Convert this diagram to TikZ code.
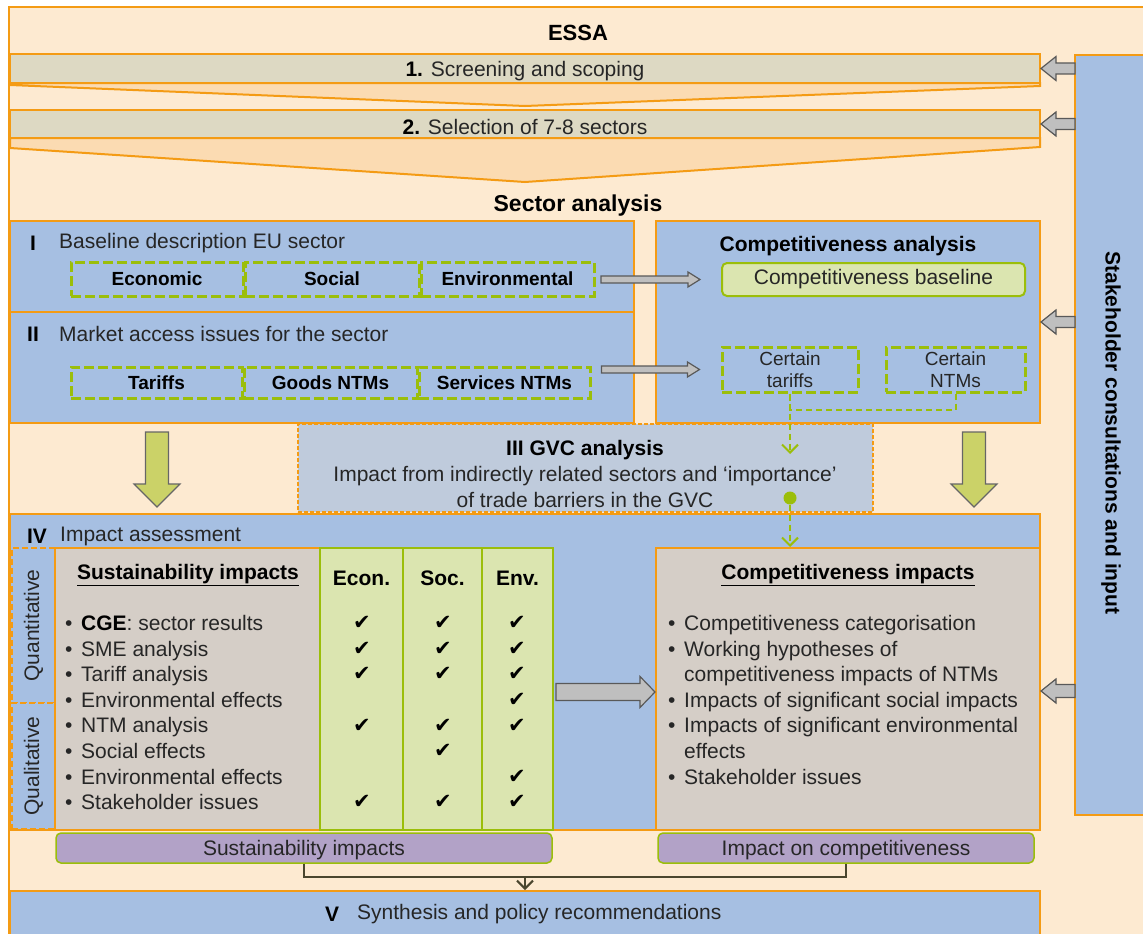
\documentclass[tikz,border=0pt]{standalone}
\usepackage{fontspec}
\setmainfont{Liberation Sans}
\newfontfamily\tickfont{DejaVu Sans}
\usetikzlibrary{calc,fit,arrows.meta}

\definecolor{essaorange}{RGB}{244,155,20}
\definecolor{essapeach}{RGB}{253,234,209}
\definecolor{essachev}{RGB}{251,219,178}
\definecolor{essabar}{RGB}{221,217,195}
\definecolor{essablue}{RGB}{166,191,226}
\definecolor{essagvc}{RGB}{191,203,220}
\definecolor{essasand}{RGB}{213,206,199}
\definecolor{essagreen}{RGB}{155,190,10}
\definecolor{essalight}{RGB}{219,229,176}
\definecolor{essapurple}{RGB}{178,162,199}
\definecolor{essaolive}{RGB}{203,210,104}
\definecolor{linkdark}{RGB}{74,70,46}
\definecolor{txtgray}{RGB}{38,38,38}

% block arrow: [style]{from}{to}{half shaft}{half head}{head length}
\newcommand{\blockarrow}[6][]{%
  \coordinate (ba-s) at (#2);
  \coordinate (ba-t) at (#3);
  \coordinate (ba-h) at ($(ba-t)!#6!(ba-s)$);
  \draw[#1] ($(ba-s)!#4!90:(ba-t)$) -- ($(ba-h)!#4!-90:(ba-s)$) -- ($(ba-h)!#5!-90:(ba-s)$)
    -- (ba-t) -- ($(ba-h)!#5!90:(ba-s)$) -- ($(ba-h)!#4!90:(ba-s)$) -- ($(ba-s)!#4!-90:(ba-t)$) -- cycle;
}
\newcommand{\bul}{\makebox[16pt][l]{•}}

\tikzset{
  orangebox/.style={draw=essaorange, line width=2pt, inner sep=0pt},
  bluebox/.style={orangebox, fill=essablue},
  sandbox/.style={orangebox, fill=essasand},
  dashbox/.style={draw=essagreen, line width=3pt, dash pattern=on 10pt off 4pt, inner sep=0pt,
    font=\bfseries\fontsize{19}{22}\selectfont},
  colbox/.style={draw=essagreen, line width=2pt, fill=essalight, inner sep=0pt},
  purplebox/.style={draw=essagreen, line width=1.5pt, fill=essapurple, rounded corners=5pt, inner sep=0pt},
  txt/.style={font=\fontsize{21}{25.6}\selectfont, text=txtgray, inner sep=0pt},
  boldtxt/.style={font=\bfseries\fontsize{21}{25.6}\selectfont, text=black, inner sep=0pt},
  headtxt/.style={font=\bfseries\fontsize{23}{27}\selectfont, text=black, inner sep=0pt},
  checkmk/.style={font=\tickfont\fontsize{21}{24}\selectfont, inner sep=0pt},
  grayarr/.style={draw=black!65, fill=black!25, line width=1.2pt},
  bigarr/.style={draw=black!60, fill=essaolive, line width=1.2pt},
  greenlink/.style={draw=essagreen, line width=2pt, dash pattern=on 6pt off 4pt},
  darklink/.style={draw=linkdark, line width=2pt},
  barb/.style={-{Straight Barb[length=8pt,width=16pt]}}
}

\begin{document}
\begin{tikzpicture}[x=1pt, y=-1pt]
    \useasboundingbox (0,0) rectangle (1143,934);
    \clip (0,0) rectangle (1143,934);

    \node[orangebox, fill=essapeach, fit={(9,7) (1170,970)}] (essa) {};
    \node[headtxt, font=\bfseries\fontsize{22}{26}\selectfont] (essatitle) at (578,33) {ESSA};

    % funnel
    \draw[orangebox, fill=essachev] (10,83) -- (1040,83) -- (1040,86) -- (525,106) -- (10,85) -- cycle;
    \draw[orangebox, fill=essachev] (10,138) -- (1040,138) -- (1040,147) -- (525,182) -- (10,148) -- cycle;
    \node[orangebox, fill=essabar, fit={(10,54) (1040,83)}] (screen) {};
    \node[txt] (screentxt) at ($(screen.center)+(0,3)$) {\textbf{\color{black}1.} Screening and scoping};
    \node[orangebox, fill=essabar, fit={(10,110) (1040,138)}] (select) {};
    \node[txt] (selecttxt) at ($(select.center)+(0,3)$) {\textbf{\color{black}2.} Selection of 7-8 sectors};

    \node[headtxt] (sectortitle) at (578,206) {Sector analysis};

    % stakeholders
    \node[bluebox, fit={(1075,55) (1170,815)}] (stake) {};
    \node[boldtxt, rotate=-90] (staketxt) at (1111,433) {Stakeholder consultations and input};

    % I and II
    \node[bluebox, fit={(10,221) (634,312)}] (baseline) {};
    \node[boldtxt] (numI) at (33,243) {I};
    \node[txt, anchor=west] (baselinetxt) at (59,243) {Baseline description EU sector};
    \node[dashbox, minimum width=172pt, minimum height=34pt] (econ) at (157,279) {Economic};
    \node[dashbox, minimum width=174pt, minimum height=34pt] (social) at (332,279) {Social};
    \node[dashbox, minimum width=173pt, minimum height=34pt] (envir) at (507.5,279) {Environmental};

    \node[bluebox, fit={(10,312) (634,423)}] (market) {};
    \node[boldtxt] (numII) at (33,334) {II};
    \node[txt, anchor=west] (markettxt) at (59,334) {Market access issues for the sector};
    \node[dashbox, minimum width=171pt, minimum height=31pt] (tariffs) at (156.5,382.5) {Tariffs};
    \node[dashbox, minimum width=173pt, minimum height=31pt] (goods) at (330.5,382.5) {Goods NTMs};
    \node[dashbox, minimum width=171pt, minimum height=31pt] (services) at (504.5,382.5) {Services NTMs};

    % competitiveness analysis
    \node[bluebox, fit={(656,221) (1040,423)}] (compana) {};
    \node[boldtxt] (companatxt) at (848,246) {Competitiveness analysis};
    \node[colbox, rounded corners=5pt, minimum width=303pt, minimum height=33pt, txt] (compbase) at (873.5,279.5) {Competitiveness baseline};
    \node[dashbox, minimum width=136pt, minimum height=45pt, font=\fontsize{19}{22}\selectfont, text=txtgray, align=center] (ctar) at (790,369.5) {Certain\\tariffs};
    \node[dashbox, minimum width=139pt, minimum height=45pt, font=\fontsize{19}{22}\selectfont, text=txtgray, align=center] (cntm) at (955.5,369.5) {Certain\\NTMs};

    % GVC
    \node[orangebox, dash pattern=on 4pt off 2pt, fill=essagvc, fit={(298,424) (873,512)}] (gvc) {};
    \node[txt, align=center] (gvctxt) at (585,474) {\textbf{\color{black}III GVC analysis}\\Impact from indirectly related sectors and ‘importance’\\of trade barriers in the GVC};

    % IV
    \node[bluebox, fit={(10,514) (1040,830)}] (impact) {};
    \node[boldtxt] (numIV) at (37,536) {IV};
    \node[txt, anchor=west] (impacttxt) at (60,536) {Impact assessment};
    \node[orangebox, dash pattern=on 6pt off 3pt, fill=essablue, fit={(12,548) (55,703)}] (quant) {};
    \node[txt, rotate=90] (quanttxt) at (quant.center) {Quantitative};
    \node[orangebox, dash pattern=on 6pt off 3pt, fill=essablue, fit={(12,703) (55,829)}] (qual) {};
    \node[txt, rotate=90] (qualtxt) at (qual.center) {Qualitative};

    \node[sandbox, fit={(55,548) (320,830)}] (susbox) {};
    \node[boldtxt] (sustitle) at (188,575) {\underline{Sustainability impacts}};
    \node[colbox, fit={(320,548) (403,830)}] (econcol) {};
    \node[colbox, fit={(403,548) (482,830)}] (soccol) {};
    \node[colbox, fit={(482,548) (553,830)}] (envcol) {};
    \node[boldtxt] (econhd) at (econcol |- 0,578) {Econ.};
    \node[boldtxt] (sochd) at (soccol |- 0,578) {Soc.};
    \node[boldtxt] (envhd) at (envcol |- 0,578) {Env.};

    \foreach \lab/\e/\s/\v [count=\i] in {{\textbf{\color{black}CGE}: sector results}/1/1/1, {SME analysis}/1/1/1,
        {Tariff analysis}/1/1/1, {Environmental effects}/0/0/1, {NTM analysis}/1/1/1,
        {Social effects}/0/1/0, {Environmental effects}/0/0/1, {Stakeholder issues}/1/1/1} {
      \node[txt, anchor=base west] (sus\i) at (65,{604.9+25.6*\i}) {\bul\lab};
      \ifnum\e=1 \node[checkmk] (ce\i) at (362,{597.4+25.6*\i}) {✔}; \fi
      \ifnum\s=1 \node[checkmk] (cs\i) at (443,{597.4+25.6*\i}) {✔}; \fi
      \ifnum\v=1 \node[checkmk] (cv\i) at (517,{597.4+25.6*\i}) {✔}; \fi
    }

    \node[sandbox, fit={(656,548) (1040,830)}] (compimp) {};
    \node[boldtxt] (compimptitle) at (848,575) {\underline{Competitiveness impacts}};
    \foreach \lab/\b [count=\i] in {{Competitiveness categorisation}/1, {Working hypotheses of}/1,
        {competitiveness impacts of NTMs}/0, {Impacts of significant social impacts}/1,
        {Impacts of significant environmental}/1, {effects}/0, {Stakeholder issues}/1} {
      \node[txt, anchor=base west] (cmp\i) at (668,{604.9+25.6*\i}) {\ifnum\b=1 \bul\else\hspace{16pt}\fi\lab};
    }

    % results and synthesis
    \node[purplebox, fit={(56,833) (552,863)}] (susimp) {};
    \node[txt] (susimptxt) at ($(susimp.center)+(0,2)$) {Sustainability impacts};
    \node[purplebox, fit={(658,833) (1034,863)}] (cimp) {};
    \node[txt] (cimptxt) at ($(cimp.center)+(0,2)$) {Impact on competitiveness};
    \node[bluebox, fit={(10,891) (1040,970)}] (synth) {};
    \node[boldtxt] (numV) at (332,914) {V};
    \node[txt, anchor=west] (synthtxt) at (357,914) {Synthesis and policy recommendations};

    \coordinate (join) at (525,877);
    \draw[darklink] (susimp.south) |- (join) -| (cimp.south);
    \draw[darklink, barb] (join) -- (join |- synth.north);

    % links through the GVC
    \coordinate (gvcin) at (790,454);
    \node[circle, fill=essagreen, minimum size=13pt, inner sep=0pt] (gvcdot) at (790,498) {};
    \draw[greenlink] (cntm.south) -- ++(0,16) -| (ctar.south);
    \draw[greenlink, barb] (ctar.south) -- (gvcin);
    \draw[greenlink, barb] (gvcdot) -- (gvcdot |- compimp.north);

    % block arrows
    \blockarrow[grayarr]{$(compbase.west)+(-120,0)$}{$(compbase.west)+(-21,0)$}{3.5pt}{7.5pt}{12pt}
    \blockarrow[grayarr]{$(ctar.west)+(-119,0)$}{$(ctar.west)+(-21,0)$}{3.5pt}{7.5pt}{12pt}
    \blockarrow[grayarr]{$(screen.east -| stake.west)+(1,0)$}{screen.east}{5.5pt}{12pt}{15pt}
    \blockarrow[grayarr]{$(select.east -| stake.west)+(1,0)$}{select.east}{5.5pt}{12pt}{15pt}
    \blockarrow[grayarr]{$(compana.east -| stake.west)+(1,0)$}{compana.east}{5.5pt}{12pt}{15pt}
    \blockarrow[grayarr]{$(compimp.east -| stake.west)+(1,2)$}{$(compimp.east)+(0,2)$}{6.5pt}{12pt}{15pt}
    \blockarrow[grayarr]{$(envcol.east)+(2,3)$}{$(compimp.west)+(0,3)$}{8.5pt}{15.5pt}{15pt}
    \blockarrow[bigarr]{157,432}{157,507}{11.5pt}{23pt}{23pt}
    \blockarrow[bigarr]{974,432}{974,507}{11.5pt}{23pt}{23pt}
\end{tikzpicture}
\end{document}
